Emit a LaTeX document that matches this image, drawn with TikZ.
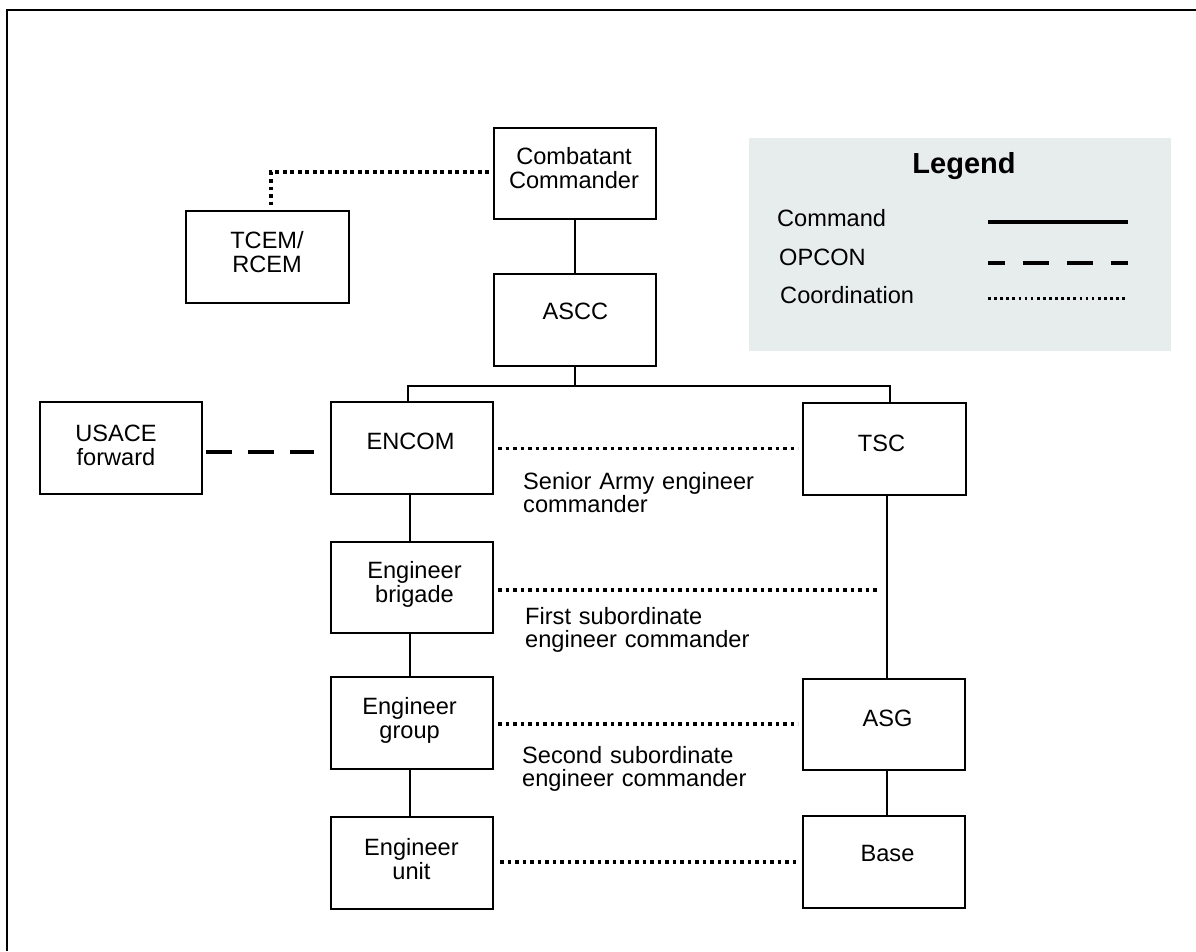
\documentclass[tikz,border=0pt]{standalone}
\usepackage{fontspec}
\setmainfont{Liberation Sans}
\definecolor{legendbg}{RGB}{231,236,236}
\begin{document}
\begin{tikzpicture}[x=1pt,y=-1pt,
  box/.style={draw, line width=2pt, minimum width=162pt, minimum height=91.5pt, inner sep=0pt},
  lbl/.style={font=\fontsize{23.6}{24}\selectfont, text width=200pt, align=center, anchor=base, inner sep=0pt},
  note/.style={font=\fontsize{23.6}{23.5}\selectfont, text width=260pt, align=left, anchor=base west, inner sep=0pt},
  cmd/.style={line width=1.8pt},
  coordln/.style={line width=3.5pt, dash pattern=on 3.7pt off 3.8pt},
  opconln/.style={line width=4pt, dash pattern=on 26pt off 16pt},
]
\useasboundingbox (0,0) rectangle (1196,951);
% frame
\draw[line width=2.5pt] (7,951) -- (7,10) -- (1196,10);

% legend
\node[fill=legendbg, minimum width=422pt, minimum height=213pt, inner sep=0pt, anchor=north west] (legend) at (749,138) {};
\node[font=\bfseries\fontsize{29}{30}\selectfont, anchor=base, inner sep=0pt] (legtitle) at (964,173) {Legend};
\node[note] (lcmd) at (777,226) {Command};
\node[note] (lopc) at (779,265.7) {OPCON};
\node[note] (lcoo) at (780,303) {Coordination};
\coordinate (lc1) at (988,222); \coordinate (lc2) at (1128,222);
\coordinate (lo1) at (988,263); \coordinate (lo2) at (1128,263);
\coordinate (lk1) at (988,298); \coordinate (lk2) at (1128,298);
\draw[line width=4pt] (lc1) -- (lc2);
\draw[line width=4.5pt, dash pattern=on 26pt off 18pt, dash phase=9pt] (lo1) -- (lo2);
\draw[line width=3pt, dash pattern=on 2.7pt off 3.4pt] (lk1) -- (lk2);

% boxes
\node[box] (combat) at (575,173.5) {};
\node[box] (ascc) at (575,320) {};
\node[box, minimum width=163pt] (tcem) at (267.5,257) {};
\node[box] (usace) at (121,448) {};
\node[box] (encom) at (412,448) {};
\node[box, minimum width=163pt] (tsc) at (884.5,449) {};
\node[box] (brigade) at (412,587.5) {};
\node[box] (group) at (412,723) {};
\node[box] (unit) at (412,863) {};
\node[box] (asg) at (884,724.5) {};
\node[box] (base) at (884,862) {};

% box labels
\node[lbl] (combatT) at (574,164) {Combatant\\Commander};
\node[lbl] (asccT) at (575.5,319) {ASCC};
\node[lbl] (tcemT) at (267,248.3) {TCEM/\\RCEM};
\node[lbl] (usaceT) at (116,441) {USACE\\forward};
\node[lbl] (encomT) at (410.5,449.5) {ENCOM};
\node[lbl] (tscT) at (881.5,451.7) {TSC};
\node[lbl] (brigadeT) at (414.5,578.3) {Engineer\\brigade};
\node[lbl] (groupT) at (409.6,714.3) {Engineer\\group};
\node[lbl] (unitT) at (411.4,855.7) {Engineer\\unit};
\node[lbl] (asgT) at (887.5,726.8) {ASG};
\node[lbl] (baseT) at (887.5,861) {Base};

% notes
\node[note] (n1) at (523,489) {Senior Army engineer\\commander};
\node[note] (n2) at (525,624) {First subordinate\\engineer commander};
\node[note] (n3) at (522,763.3) {Second subordinate\\engineer commander};

% command connectors
\draw[cmd] (combat) -- (ascc);
\draw[cmd] (ascc.south) -- ++(0,19) coordinate (busc);
\draw[cmd] ([xshift=-4pt]encom.north) |- (busc) -| ([xshift=5.5pt]tsc.north);
\draw[cmd] ([xshift=-2pt]encom.south) -- ([xshift=-2pt]brigade.north);
\draw[cmd] ([xshift=-2pt]brigade.south) -- ([xshift=-2pt]group.north);
\draw[cmd] ([xshift=-2pt]group.south) -- ([xshift=-2pt]unit.north);
\draw[cmd] ([xshift=2.5pt]tsc.south) -- ([xshift=3pt]asg.north);
\draw[cmd] ([xshift=3pt]asg.south) -- ([xshift=3pt]base.north);

% OPCON
\draw[opconln, shorten <=3pt, shorten >=16pt] ([yshift=-3.7pt]usace.east) -- ([yshift=-3.7pt]encom.west);

% coordination
\draw[coordln, shorten <=4pt, shorten >=4pt] ([yshift=1.5pt]combat.west) -| ([xshift=3.5pt]tcem.north);
\draw[coordln, shorten <=4pt, shorten >=4pt] ([yshift=-0.5pt]encom.east) -- ([yshift=-0.5pt]encom.east -| tsc.west);
\coordinate (brgend) at (879,590);
\draw[coordln, shorten <=4pt] ([yshift=-2.5pt]brigade.east) -- (brgend);
\draw[coordln, shorten <=4pt, shorten >=4pt] ([yshift=-1pt]group.east) -- ([yshift=-1pt]group.east -| asg.west);
\draw[coordln, shorten <=6pt, shorten >=6pt] ([yshift=1pt]unit.east) -- ([yshift=1pt]unit.east -| base.west);
\end{tikzpicture}
\end{document}
